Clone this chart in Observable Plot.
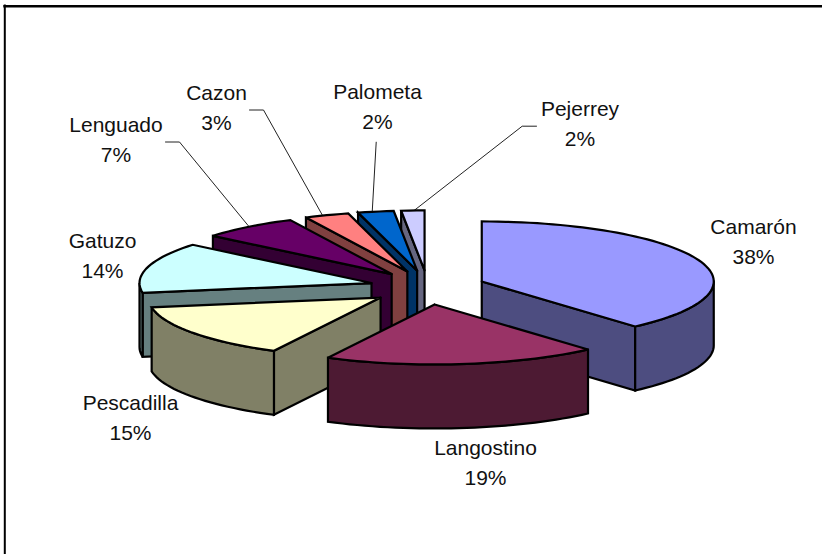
<!DOCTYPE html>
<html><head><meta charset="utf-8">
<script src="https://cdn.jsdelivr.net/npm/d3@7"></script>
<script src="https://cdn.jsdelivr.net/npm/@observablehq/plot@0.6"></script>
<style>html,body{margin:0;padding:0;background:#fff}svg{display:block}</style>
</head><body><div id="chart"></div>
<script>
const categories = ["Camarón","Langostino","Pescadilla","Gatuzo","Lenguado","Cazon","Palometa","Pejerrey"];
const shares = [38.5,19.1,14.8,13.6,6.8,3.1,2.49,1.61];
const percentLabels = ["38%","19%","15%","14%","7%","3%","2%","2%"];
const topColors = ["#9999FF","#993366","#FFFFCC","#CCFFFF","#660066","#FF8080","#0066CC","#CCCCFF"];
const sideColors = ["#4D4D80","#4D1A33","#808066","#668080","#330033","#804040","#003366","#666680"];
const paintOrder = ["Pejerrey","Palometa","Cazon","Lenguado","Gatuzo","Pescadilla","Camarón","Langostino"];
// label placement in screen units [x of text centre, y of first line]
const labelX = [753,485,130,102,115.5,216,377,579.5];
const labelY = [227,448,403,241,125,93,91.5,108.5];
const leaderX = [[],[],[],[],[165,179,249],[249,263,323],[375.7,371.7],[536,521.7,412.7]];
const leaderY = [[],[],[],[],[141.5,141.5,226.7],[109.5,109.5,216.7],[141.7,211.7],[125.7,125.7,210.7]];

const cx=427, cy=287, rx=232, ry=60, depth=64, explode=0.25, explodeY=0.285;
const rad=d=>d*Math.PI/180;
let acc=0;
const slices=categories.map((name,i)=>{const a0=acc*3.6; acc+=shares[i]; const a1=acc*3.6; const m=(a0+a1)/2;
  return {name,i,a0,a1,ax:cx+explode*rx*Math.sin(rad(m)),ay:cy-explodeY*ry*Math.cos(rad(m))};});
function rim(s,a0,a1,dz){const n=Math.max(2,Math.ceil((a1-a0)/2));
  return d3.range(n+1).map(k=>{const a=a0+(a1-a0)*k/n;return {x:s.ax+rx*Math.sin(rad(a)),y:s.ay-ry*Math.cos(rad(a))+dz};});}
const polys=[];
for(const nm of paintOrder){const s=slices.find(d=>d.name===nm);
  const side=sideColors[s.i], top=topColors[s.i];
  const wall=a=>{const p=rim(s,a,a,0)[0];return [{x:s.ax,y:s.ay},p,{x:p.x,y:p.y+depth},{x:s.ax,y:s.ay+depth},{x:s.ax,y:s.ay}];};
  if(Math.sin(rad(s.a0))<-1e-6) polys.push({pts:wall(s.a0),fill:side});
  if(Math.sin(rad(s.a1))>1e-6) polys.push({pts:wall(s.a1),fill:side});
  const o0=Math.max(s.a0,90), o1=Math.min(s.a1,270);
  if(o1>o0){const up=rim(s,o0,o1,0),dn=rim(s,o0,o1,depth).reverse();polys.push({pts:[...up,...dn,up[0]],fill:side});}
  const arc=rim(s,s.a0,s.a1,0);
  polys.push({pts:[{x:s.ax,y:s.ay},...arc,{x:s.ax,y:s.ay}],fill:top});
}
const leaders=categories.map((c,i)=>leaderX[i].map((x,k)=>({x,y:leaderY[i][k]}))).filter(l=>l.length);
const labels=categories.map((c,i)=>({c,pct:percentLabels[i],x:labelX[i],y:labelY[i]}));
const font='"Liberation Sans",Arial,sans-serif';
const plot=Plot.plot({width:822,height:554,margin:0,
  x:{domain:[0,822],range:[0,822],axis:null},y:{domain:[0,554],range:[0,554],axis:null},
  marks:[
    Plot.ruleY([5.8],{x1:3.3,x2:822,stroke:"black",strokeWidth:2.4}),
    Plot.ruleX([4.3],{y1:4.6,y2:554,stroke:"black",strokeWidth:2}),
    ...leaders.map(l=>Plot.line(l,{x:"x",y:"y",stroke:"#222",strokeWidth:1})),
    ...polys.map(p=>Plot.line(p.pts,{x:"x",y:"y",fill:p.fill,stroke:"black",strokeWidth:2.2,strokeLinejoin:"miter",strokeMiterlimit:3})),
    Plot.text(labels,{x:"x",y:"y",text:"c",fontSize:21,fill:"#111",fontFamily:font,textAnchor:"middle"}),
    Plot.text(labels,{x:"x",y:d=>d.y+30,text:"pct",fontSize:21,fill:"#111",fontFamily:font,textAnchor:"middle"})
  ]});
plot.style.fontFamily=font;
document.getElementById("chart").append(plot);
</script></body></html>
